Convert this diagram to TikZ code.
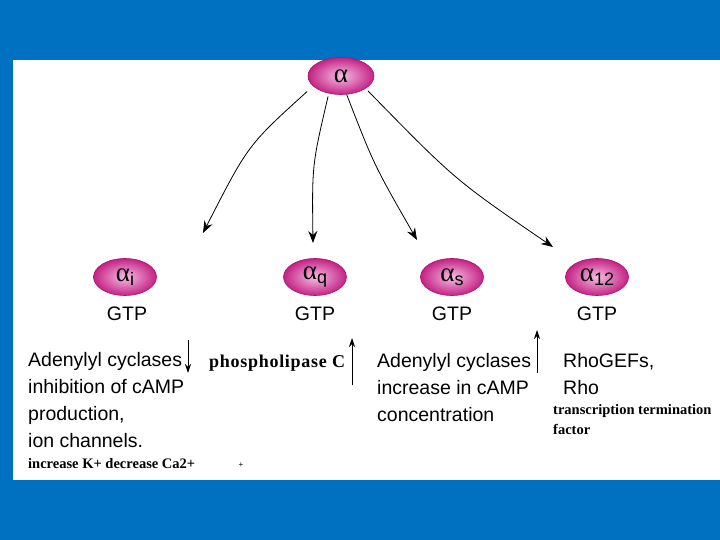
\documentclass[tikz,border=0pt]{standalone}
\usepackage{fontspec}
\setmainfont{Liberation Sans}
\newfontfamily\greekserif{Liberation Serif}
\newfontfamily\boldserif{Liberation Serif}
\newfontfamily\spacedserif[LetterSpace=4]{Liberation Serif}
\usetikzlibrary{shapes.geometric,arrows.meta}

\definecolor{slideblue}{RGB}{0,112,192}
\definecolor{gpink}{RGB}{245,190,228}
\definecolor{gmagenta}{RGB}{196,34,132}
\definecolor{grim}{RGB}{168,22,110}

% alpha with a sans subscript
\newcommand{\galpha}[1]{{\greekserif\fontsize{27}{27}\selectfont α}\raisebox{-4pt}{\fontsize{18}{18}\selectfont #1}}

\tikzset{
  subunit/.style={ellipse, minimum width=63pt, minimum height=37pt, inner sep=0pt,
    inner color=gpink, outer color=gmagenta, draw=grim, line width=0.6pt},
  gtp/.style={anchor=base, inner sep=0pt, font=\fontsize{19.5}{20}\selectfont},
  branch/.style={-{Stealth[length=12pt,width=9pt,inset=4pt]}, line width=0.8pt},
  effect/.style={-{Stealth[length=9pt,width=6pt]}, line width=0.9pt},
  body/.style={anchor=base west, align=left, inner sep=0pt, font=\fontsize{19.5}{26.7}\selectfont},
  note/.style={anchor=base west, align=left, inner sep=0pt, font=\boldserif\bfseries\fontsize{14.5}{20}\selectfont},
}

\begin{document}
\begin{tikzpicture}[x=1pt,y=1pt]
  % slide background
  \fill[slideblue] (0,0) rectangle (720,-540);
  \fill[white] (13,-60) rectangle (720,-480);
  \useasboundingbox (0,0) rectangle (720,-540);

  % subunits
  \node[subunit, minimum width=66pt] (alpha) at (341,-76) {{\greekserif\fontsize{27}{27}\selectfont α}};
  \node[subunit] (ai) at (125,-277) {\galpha{i}};
  \node[subunit] (aq) at (315,-277) {\galpha{q}};
  \node[subunit] (as) at (452,-277) {\galpha{s}};
  \node[subunit] (a12) at (597,-277) {\galpha{12}};

  \node[gtp] (gi) at (127,-320) {GTP};
  \node[gtp] (gq) at (315,-320) {GTP};
  \node[gtp] (gs) at (452,-320) {GTP};
  \node[gtp] (g12) at (597,-320) {GTP};

  % branches from alpha
  \coordinate (ti) at (203,-233);
  \coordinate (tq) at (313,-243);
  \coordinate (ts) at (417,-240);
  \coordinate (t12) at (553,-247);
  \draw[branch, shorten <=8pt] (alpha.200) .. controls (248,-145) .. (ti);
  \draw[branch, shorten <=3pt] (alpha.235) .. controls (312,-165) .. (tq);
  \draw[branch] (alpha.287) .. controls (374,-165) .. (ts);
  \draw[branch, shorten <=3pt] (alpha.333) .. controls (455,-180) .. (t12);

  % effectors (multi-line nodes sit on their last line)
  \node[body] (effi) at (28,-447) {Adenylyl cyclases\\inhibition of cAMP\\production,\\ion channels.};
  \node[note] (ions) at (28,-468) {increase K+ decrease Ca2+};
  \node[anchor=base, inner sep=0pt, font=\fontsize{8}{8}\selectfont] (plus) at (241,-467) {+};
  \node[anchor=base west, inner sep=0pt, font=\spacedserif\bfseries\fontsize{18}{18}\selectfont] (plc) at (209,-367) {phospholipase C};
  \node[body] (effs) at (377,-421) {Adenylyl cyclases\\increase in cAMP\\concentration};
  \node[body] (eff12) at (563,-394) {RhoGEFs,\\Rho};
  \node[note] (tf) at (553,-434) {transcription termination\\factor};

  \coordinate (di0) at (188,-340);
  \coordinate (di1) at (188,-373);
  \coordinate (uq0) at (352,-385);
  \coordinate (uq1) at (352,-338);
  \coordinate (us0) at (537,-373);
  \coordinate (us1) at (537,-330);
  \draw[effect] (di0) -- (di1);
  \draw[effect] (uq0) -- (uq1);
  \draw[effect] (us0) -- (us1);
\end{tikzpicture}
\end{document}
